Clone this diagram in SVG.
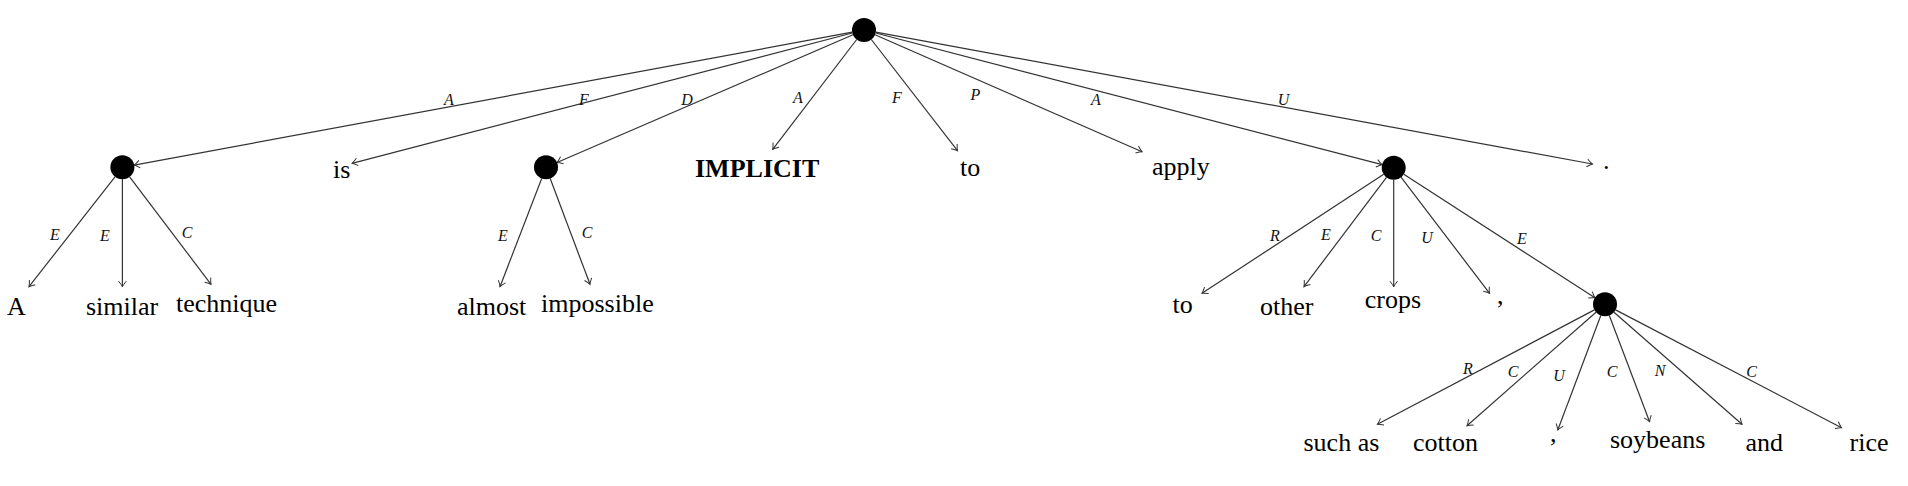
<svg xmlns="http://www.w3.org/2000/svg" width="1908" height="486" viewBox="0 0 1908 486">
<style>
.w{font-family:"Liberation Serif","Times New Roman",serif;font-size:26px;fill:#000}
.b{font-weight:bold}
.l{font-family:"Liberation Serif","Times New Roman",serif;font-size:16px;font-style:italic;fill:#111;text-anchor:middle}
.e{stroke:#333;stroke-width:1.2;fill:none;marker-end:url(#arr)}
.n{fill:#000}
</style>
<defs>
<marker id="arr" viewBox="-8 -6 10 12" refX="0" refY="0" markerWidth="10" markerHeight="12" orient="auto" markerUnits="userSpaceOnUse">
<path d="M -5.5 -3.8 Q -1.8 -0.8 0 0 Q -1.8 0.8 -5.5 3.8" fill="none" stroke="#333" stroke-width="1"/>
</marker>
</defs>
<rect width="1908" height="486" fill="#fff"/>
<g id="connectors">
<line class="e" x1="852.2" y1="32.2" x2="134.2" y2="165.1"/>
<line class="e" x1="852.4" y1="33.0" x2="352" y2="163.3"/>
<line class="e" x1="853.0" y1="34.8" x2="557" y2="162.5"/>
<line class="e" x1="856.7" y1="39.5" x2="772.7" y2="149.3"/>
<line class="e" x1="871.3" y1="39.5" x2="957.5" y2="150.7"/>
<line class="e" x1="875.0" y1="34.8" x2="1142" y2="151.7"/>
<line class="e" x1="875.6" y1="33.0" x2="1382.1" y2="164.7"/>
<line class="e" x1="875.8" y1="32.2" x2="1592.5" y2="164"/>
<line class="e" x1="115.0" y1="176.8" x2="29" y2="286.7"/>
<line class="e" x1="122.4" y1="179.3" x2="122.4" y2="286.7"/>
<line class="e" x1="129.6" y1="176.9" x2="211" y2="284.3"/>
<line class="e" x1="541.7" y1="178.5" x2="500" y2="286.7"/>
<line class="e" x1="550.2" y1="178.5" x2="590" y2="284.3"/>
<line class="e" x1="1383.7" y1="174.3" x2="1202" y2="293.3"/>
<line class="e" x1="1386.5" y1="177.3" x2="1304" y2="286.7"/>
<line class="e" x1="1393.7" y1="179.7" x2="1393.7" y2="286.7"/>
<line class="e" x1="1401" y1="177.2" x2="1489.6" y2="293.3"/>
<line class="e" x1="1403.8" y1="174.2" x2="1594.9" y2="297.8"/>
<line class="e" x1="1594.4" y1="309.9" x2="1377.4" y2="424.3"/>
<line class="e" x1="1596" y1="312.2" x2="1467" y2="425.7"/>
<line class="e" x1="1600.8" y1="315.5" x2="1557.8" y2="430"/>
<line class="e" x1="1609.3" y1="315.5" x2="1649.6" y2="421.7"/>
<line class="e" x1="1614" y1="312.2" x2="1742" y2="424.3"/>
<line class="e" x1="1615.6" y1="309.9" x2="1841.5" y2="427.7"/>
</g>
<g id="edge-labels">
<text class="l" x="449" y="105">A</text>
<text class="l" x="584" y="105">F</text>
<text class="l" x="687" y="104.5">D</text>
<text class="l" x="798" y="102.5">A</text>
<text class="l" x="897" y="103">F</text>
<text class="l" x="975.5" y="100">P</text>
<text class="l" x="1096" y="105">A</text>
<text class="l" x="1283.5" y="105">U</text>
<text class="l" x="55" y="239.5">E</text>
<text class="l" x="105" y="240.5">E</text>
<text class="l" x="187" y="237.5">C</text>
<text class="l" x="503" y="240.5">E</text>
<text class="l" x="587" y="238">C</text>
<text class="l" x="1275" y="240.5">R</text>
<text class="l" x="1326" y="240">E</text>
<text class="l" x="1376" y="241">C</text>
<text class="l" x="1427" y="242.5">U</text>
<text class="l" x="1522" y="243.5">E</text>
<text class="l" x="1468" y="374">R</text>
<text class="l" x="1513" y="376.5">C</text>
<text class="l" x="1559" y="380.5">U</text>
<text class="l" x="1612" y="376.5">C</text>
<text class="l" x="1660" y="375.5">N</text>
<text class="l" x="1751.7" y="376.5">C</text>
</g>
<g id="root"><circle class="n" cx="864" cy="30" r="12"/></g>
<g id="n-a-similar-technique"><circle class="n" cx="122.4" cy="167.3" r="12"/></g>
<g id="n-almost-impossible"><circle class="n" cx="546" cy="167.3" r="12"/></g>
<g id="n-to-other-crops"><circle class="n" cx="1393.7" cy="167.7" r="12"/></g>
<g id="n-such-as"><circle class="n" cx="1605" cy="304.3" r="12"/></g>
<g id="w-is"><text class="w" x="333" y="178">is</text></g>
<g id="w-implicit"><text class="w b" x="695" y="177">IMPLICIT</text></g>
<g id="w-to1"><text class="w" x="960" y="176">to</text></g>
<g id="w-apply"><text class="w" x="1152" y="175">apply</text></g>
<g id="w-period"><text class="w" x="1603" y="169">.</text></g>
<g id="w-A"><text class="w" x="7" y="315">A</text></g>
<g id="w-similar"><text class="w" x="86" y="315">similar</text></g>
<g id="w-technique"><text class="w" x="176" y="312">technique</text></g>
<g id="w-almost"><text class="w" x="457" y="315">almost</text></g>
<g id="w-impossible"><text class="w" x="541" y="312">impossible</text></g>
<g id="w-to2"><text class="w" x="1172.6" y="313">to</text></g>
<g id="w-other"><text class="w" x="1260" y="315">other</text></g>
<g id="w-crops"><text class="w" x="1364.7" y="308">crops</text></g>
<g id="w-comma1"><text class="w" x="1497" y="304">,</text></g>
<g id="w-such-as"><text class="w" x="1303.5" y="451">such as</text></g>
<g id="w-cotton"><text class="w" x="1413" y="451">cotton</text></g>
<g id="w-comma2"><text class="w" x="1550" y="442">,</text></g>
<g id="w-soybeans"><text class="w" x="1610" y="448">soybeans</text></g>
<g id="w-and"><text class="w" x="1745.5" y="451">and</text></g>
<g id="w-rice"><text class="w" x="1849.6" y="451">rice</text></g>
</svg>
